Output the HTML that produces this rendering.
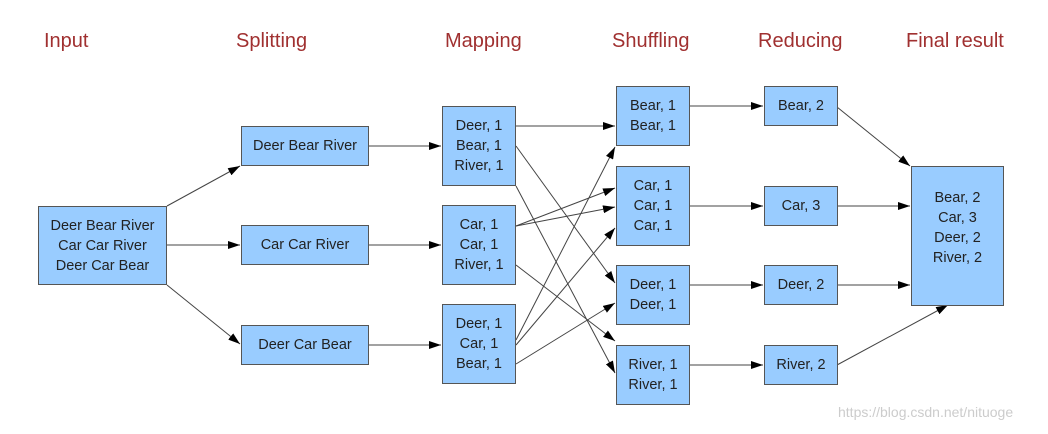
<!DOCTYPE html>
<html><head><style>
body{margin:0;width:1048px;height:434px;background:#fff;position:relative;overflow:hidden;font-family:"Liberation Sans",sans-serif}
.h{position:absolute;top:30px;font-size:20px;color:#a03030}
.b{position:absolute;background:#99ccff;border:1.5px solid #555;box-sizing:border-box;display:flex;align-items:center;justify-content:center;text-align:center;font-size:14.5px;line-height:20px;color:#222}
svg{position:absolute;left:0;top:0}
</style></head><body>
<div class="h" style="left:44px">Input</div>
<div class="h" style="left:236px">Splitting</div>
<div class="h" style="left:445px">Mapping</div>
<div class="h" style="left:612px">Shuffling</div>
<div class="h" style="left:758px">Reducing</div>
<div class="h" style="left:906px">Final result</div>
<svg width="1048" height="434">
<defs><marker id="a" markerWidth="12" markerHeight="8" refX="12" refY="4" orient="auto" markerUnits="userSpaceOnUse"><path d="M0,0L12,4L0,8z" fill="#000"/></marker></defs>
<g stroke="#444" stroke-width="1" marker-end="url(#a)" fill="none">
<line x1="167" y1="206" x2="240" y2="166"/>
<line x1="167" y1="245" x2="240" y2="245"/>
<line x1="167" y1="285" x2="240" y2="344"/>
<line x1="369" y1="146" x2="441" y2="146"/>
<line x1="369" y1="245" x2="441" y2="245"/>
<line x1="369" y1="345" x2="441" y2="345"/>
<line x1="516" y1="126" x2="615" y2="126"/>
<line x1="516" y1="146" x2="615" y2="283"/>
<line x1="516" y1="186" x2="615" y2="373"/>
<line x1="516" y1="226" x2="615" y2="188"/>
<line x1="516" y1="226" x2="615" y2="207"/>
<line x1="516" y1="265" x2="615" y2="341"/>
<line x1="516" y1="340" x2="615" y2="147"/>
<line x1="516" y1="345" x2="615" y2="228"/>
<line x1="516" y1="364" x2="615" y2="303"/>
<line x1="690" y1="106" x2="763" y2="106"/>
<line x1="690" y1="206" x2="763" y2="206"/>
<line x1="690" y1="285" x2="763" y2="285"/>
<line x1="690" y1="365" x2="763" y2="365"/>
<line x1="837" y1="107" x2="910" y2="166"/>
<line x1="837" y1="206" x2="910" y2="206"/>
<line x1="837" y1="285" x2="910" y2="285"/>
<line x1="837" y1="365" x2="948" y2="305"/>
</g></svg>
<div class="b" style="left:38px;top:206px;width:129px;height:79px">Deer Bear River<br>Car Car River<br>Deer Car Bear</div>
<div class="b" style="left:241px;top:126px;width:128px;height:40px">Deer Bear River</div>
<div class="b" style="left:241px;top:225px;width:128px;height:40px">Car Car River</div>
<div class="b" style="left:241px;top:325px;width:128px;height:40px">Deer Car Bear</div>
<div class="b" style="left:442px;top:106px;width:74px;height:80px">Deer, 1<br>Bear, 1<br>River, 1</div>
<div class="b" style="left:442px;top:205px;width:74px;height:80px">Car, 1<br>Car, 1<br>River, 1</div>
<div class="b" style="left:442px;top:304px;width:74px;height:80px">Deer, 1<br>Car, 1<br>Bear, 1</div>
<div class="b" style="left:616px;top:86px;width:74px;height:60px">Bear, 1<br>Bear, 1</div>
<div class="b" style="left:616px;top:166px;width:74px;height:80px">Car, 1<br>Car, 1<br>Car, 1</div>
<div class="b" style="left:616px;top:265px;width:74px;height:60px">Deer, 1<br>Deer, 1</div>
<div class="b" style="left:616px;top:345px;width:74px;height:60px">River, 1<br>River, 1</div>
<div class="b" style="left:764px;top:86px;width:74px;height:40px">Bear, 2</div>
<div class="b" style="left:764px;top:186px;width:74px;height:40px">Car, 3</div>
<div class="b" style="left:764px;top:265px;width:74px;height:40px">Deer, 2</div>
<div class="b" style="left:764px;top:345px;width:74px;height:40px">River, 2</div>
<div class="b" style="left:911px;top:166px;width:93px;height:140px;padding-bottom:16px">Bear, 2<br>Car, 3<br>Deer, 2<br>River, 2</div>
<div style="position:absolute;left:838px;top:404px;font-size:14px;color:#ccc">https://blog.csdn.net/nituoge</div>
</body></html>
